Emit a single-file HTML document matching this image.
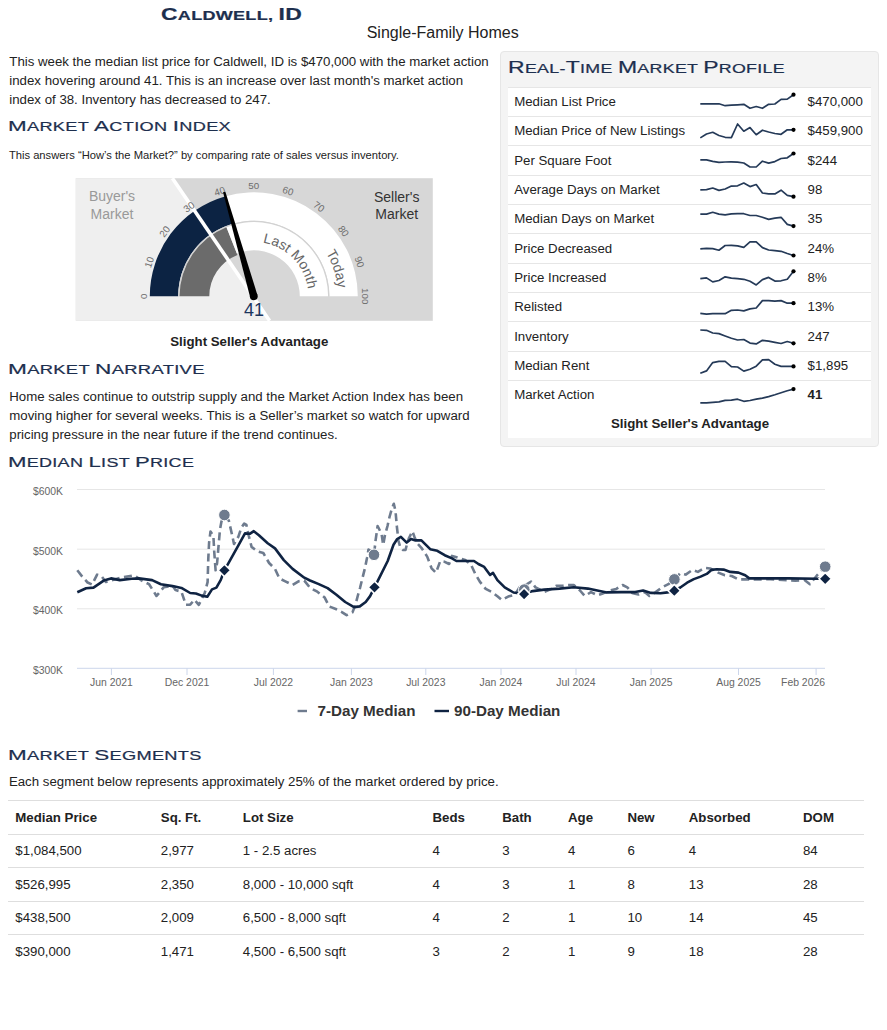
<!DOCTYPE html>
<html><head><meta charset="utf-8"><title>Caldwell, ID</title>
<style>
html,body{margin:0;padding:0;background:#fff;}
body{width:887px;height:1030px;position:relative;overflow:hidden;font-family:"Liberation Sans", sans-serif;color:#222;}
.hd,.t{position:absolute;white-space:nowrap;}
.hd{transform-origin:0 50%;font-family:"Liberation Sans", sans-serif;-webkit-text-stroke:0.2px currentColor;}
svg{position:absolute;left:0;top:0;}
</style></head><body>
<div id="h0" class="hd" style="left:160.70px;top:3.81px;line-height:20px;font-weight:700;color:#1d2f4e;letter-spacing:0.20px;transform:scaleX(1.3267)"><span style="font-size:17.30px">C</span><span style="font-size:13.60px">A</span><span style="font-size:13.60px">L</span><span style="font-size:13.60px">D</span><span style="font-size:13.60px">W</span><span style="font-size:13.60px">E</span><span style="font-size:13.60px">L</span><span style="font-size:13.60px">L</span><span style="font-size:13.60px">,</span><span style="font-size:13.60px"> </span><span style="font-size:17.30px">I</span><span style="font-size:17.30px">D</span></div>
<div class="t " style="left:366.70px;top:22.11px;font-size:16.00px;line-height:21.00px;color:#222;font-weight:400;">Single-Family Homes</div>
<div class="t " style="left:9.30px;top:52.56px;font-size:13.25px;line-height:17.00px;color:#222;font-weight:400;">This week the median list price for Caldwell, ID is $470,000 with the market action</div>
<div class="t " style="left:9.30px;top:71.56px;font-size:13.25px;line-height:17.00px;color:#222;font-weight:400;">index hovering around 41. This is an increase over last month's market action</div>
<div class="t " style="left:9.30px;top:90.56px;font-size:13.25px;line-height:17.00px;color:#222;font-weight:400;">index of 38. Inventory has decreased to 247.</div>
<div id="h1" class="hd" style="left:8.29px;top:115.56px;line-height:20px;font-weight:400;color:#1d2f4e;letter-spacing:0.20px;transform:scaleX(1.4542)"><span style="font-size:15.40px">M</span><span style="font-size:12.50px">A</span><span style="font-size:12.50px">R</span><span style="font-size:12.50px">K</span><span style="font-size:12.50px">E</span><span style="font-size:12.50px">T</span><span style="font-size:12.50px"> </span><span style="font-size:15.40px">A</span><span style="font-size:12.50px">C</span><span style="font-size:12.50px">T</span><span style="font-size:12.50px">I</span><span style="font-size:12.50px">O</span><span style="font-size:12.50px">N</span><span style="font-size:12.50px"> </span><span style="font-size:15.40px">I</span><span style="font-size:12.50px">N</span><span style="font-size:12.50px">D</span><span style="font-size:12.50px">E</span><span style="font-size:12.50px">X</span></div>
<div class="t " style="left:8.90px;top:147.67px;font-size:11.20px;line-height:15.00px;color:#222;font-weight:400;">This answers “How’s the Market?” by comparing rate of sales versus inventory.</div>
<svg width="887" height="400" viewBox="0 0 887 400" style="font-family:'Liberation Sans', sans-serif"><rect x="75.8" y="178.2" width="357" height="142.6" fill="#d7d7d7"/><polygon points="75.8,178.2 172.6,178.2 269.6,320.8 75.8,320.8" fill="#efefef"/><path d="M149.80 296.30 A104.00 104.00 0 0 1 224.78 196.43 L232.71 223.70 A75.60 75.60 0 0 0 178.20 296.30 Z" fill="#0c2343"/><path d="M224.78 196.43 A104.00 104.00 0 0 1 357.80 296.30 L329.40 296.30 A75.60 75.60 0 0 0 232.71 223.70 Z" fill="#ffffff"/><path d="M178.20 296.30 A75.60 75.60 0 0 1 329.40 296.30 L328.10 296.30 A74.30 74.30 0 0 0 179.50 296.30 Z" fill="#d2d2d2"/><path d="M179.50 296.30 A74.30 74.30 0 0 1 226.45 227.22 L237.42 254.92 A44.50 44.50 0 0 0 209.30 296.30 Z" fill="#6b6b6b"/><path d="M226.45 227.22 A74.30 74.30 0 0 1 328.10 296.30 L299.80 296.30 A46.00 46.00 0 0 0 236.87 253.53 Z" fill="#ffffff"/><line x1="172.4" y1="178.2" x2="269.6" y2="320.8" stroke="#ffffff" stroke-width="3.6"/><text x="143.80" y="296.30" transform="rotate(-90.0 143.80 296.30)" font-size="9.8" fill="#6c6c6c" text-anchor="middle" dominant-baseline="central">0</text><text x="149.06" y="262.27" transform="rotate(-72.0 149.06 262.27)" font-size="9.8" fill="#6c6c6c" text-anchor="middle" dominant-baseline="central">10</text><text x="164.60" y="231.49" transform="rotate(-54.0 164.60 231.49)" font-size="9.8" fill="#6c6c6c" text-anchor="middle" dominant-baseline="central">20</text><text x="188.91" y="206.99" transform="rotate(-36.0 188.91 206.99)" font-size="9.8" fill="#6c6c6c" text-anchor="middle" dominant-baseline="central">30</text><text x="219.65" y="191.19" transform="rotate(-18.0 219.65 191.19)" font-size="9.8" fill="#6c6c6c" text-anchor="middle" dominant-baseline="central">40</text><text x="253.80" y="185.65" transform="rotate(0.0 253.80 185.65)" font-size="9.8" fill="#6c6c6c" text-anchor="middle" dominant-baseline="central">50</text><text x="288.03" y="190.94" transform="rotate(18.0 288.03 190.94)" font-size="9.8" fill="#6c6c6c" text-anchor="middle" dominant-baseline="central">60</text><text x="318.99" y="206.57" transform="rotate(36.0 318.99 206.57)" font-size="9.8" fill="#6c6c6c" text-anchor="middle" dominant-baseline="central">70</text><text x="343.63" y="231.03" transform="rotate(54.0 343.63 231.03)" font-size="9.8" fill="#6c6c6c" text-anchor="middle" dominant-baseline="central">80</text><text x="359.53" y="261.95" transform="rotate(72.0 359.53 261.95)" font-size="9.8" fill="#6c6c6c" text-anchor="middle" dominant-baseline="central">90</text><text x="365.10" y="296.30" transform="rotate(90.0 365.10 296.30)" font-size="9.8" fill="#6c6c6c" text-anchor="middle" dominant-baseline="central">100</text><defs><path id="arcLM" d="M199.30 296.30 A54.50 54.50 0 0 1 308.30 296.30" fill="none"/><path id="arcTD" d="M169.50 296.30 A84.30 84.30 0 0 1 338.10 296.30" fill="none"/></defs><text font-size="14" fill="#666"><textPath href="#arcLM" startOffset="94.51">Last Month</textPath></text><text font-size="14" fill="#666"><textPath href="#arcTD" startOffset="218.75">Today</textPath></text><polygon points="257.46,295.26 225.35,191.67 223.05,192.33 250.14,297.34" fill="#000"/><circle cx="253.80" cy="296.30" r="3.9" fill="#000"/></svg>
<div class="t " style="left:80.00px;top:188.40px;font-size:14.00px;line-height:17.40px;color:#999;font-weight:400;text-align:center;width:64px;">Buyer's<br>Market</div>
<div class="t " style="left:364.70px;top:188.60px;font-size:14.00px;line-height:17.40px;color:#333;font-weight:400;text-align:center;width:64px;">Seller's<br>Market</div>
<div class="t " style="left:233.90px;top:298.71px;font-size:18.00px;line-height:23.00px;color:#1c355e;font-weight:400;text-align:center;width:40px;">41</div>
<div class="t " style="left:149.30px;top:332.86px;font-size:13.25px;line-height:17.00px;color:#222;font-weight:700;text-align:center;width:200px;">Slight Seller's Advantage</div>
<div id="h2" class="hd" style="left:7.67px;top:358.96px;line-height:20px;font-weight:400;color:#1d2f4e;letter-spacing:0.20px;transform:scaleX(1.4700)"><span style="font-size:15.40px">M</span><span style="font-size:12.50px">A</span><span style="font-size:12.50px">R</span><span style="font-size:12.50px">K</span><span style="font-size:12.50px">E</span><span style="font-size:12.50px">T</span><span style="font-size:12.50px"> </span><span style="font-size:15.40px">N</span><span style="font-size:12.50px">A</span><span style="font-size:12.50px">R</span><span style="font-size:12.50px">R</span><span style="font-size:12.50px">A</span><span style="font-size:12.50px">T</span><span style="font-size:12.50px">I</span><span style="font-size:12.50px">V</span><span style="font-size:12.50px">E</span></div>
<div class="t " style="left:9.30px;top:388.26px;font-size:13.25px;line-height:17.00px;color:#222;font-weight:400;">Home sales continue to outstrip supply and the Market Action Index has been</div>
<div class="t " style="left:9.30px;top:407.36px;font-size:13.25px;line-height:17.00px;color:#222;font-weight:400;">moving higher for several weeks. This is a Seller’s market so watch for upward</div>
<div class="t " style="left:9.30px;top:426.46px;font-size:13.25px;line-height:17.00px;color:#222;font-weight:400;">pricing pressure in the near future if the trend continues.</div>
<div id="h3" class="hd" style="left:7.67px;top:451.56px;line-height:20px;font-weight:400;color:#1d2f4e;letter-spacing:0.20px;transform:scaleX(1.4383)"><span style="font-size:15.40px">M</span><span style="font-size:12.50px">E</span><span style="font-size:12.50px">D</span><span style="font-size:12.50px">I</span><span style="font-size:12.50px">A</span><span style="font-size:12.50px">N</span><span style="font-size:12.50px"> </span><span style="font-size:15.40px">L</span><span style="font-size:12.50px">I</span><span style="font-size:12.50px">S</span><span style="font-size:12.50px">T</span><span style="font-size:12.50px"> </span><span style="font-size:15.40px">P</span><span style="font-size:12.50px">R</span><span style="font-size:12.50px">I</span><span style="font-size:12.50px">C</span><span style="font-size:12.50px">E</span></div>
<div style="position:absolute;left:499.7px;top:51.4px;width:377.5px;height:394px;background:#f4f4f4;border:1px solid #e6e6e6;border-radius:4px;"></div>
<div id="h4" class="hd" style="left:507.74px;top:58.19px;line-height:20px;font-weight:400;color:#1d2f4e;letter-spacing:0.20px;transform:scaleX(1.4726)"><span style="font-size:15.60px">R</span><span style="font-size:12.10px">E</span><span style="font-size:12.10px">A</span><span style="font-size:12.10px">L</span><span style="font-size:12.10px">-</span><span style="font-size:15.60px">T</span><span style="font-size:12.10px">I</span><span style="font-size:12.10px">M</span><span style="font-size:12.10px">E</span><span style="font-size:12.10px"> </span><span style="font-size:15.60px">M</span><span style="font-size:12.10px">A</span><span style="font-size:12.10px">R</span><span style="font-size:12.10px">K</span><span style="font-size:12.10px">E</span><span style="font-size:12.10px">T</span><span style="font-size:12.10px"> </span><span style="font-size:15.60px">P</span><span style="font-size:12.10px">R</span><span style="font-size:12.10px">O</span><span style="font-size:12.10px">F</span><span style="font-size:12.10px">I</span><span style="font-size:12.10px">L</span><span style="font-size:12.10px">E</span></div>
<div style="position:absolute;left:507.8px;top:87.00px;width:363.2px;height:351.20px;background:#fff;"></div>
<div style="position:absolute;left:507.8px;top:86.50px;width:363.2px;height:1px;background:#e6e6e6;"></div>
<div class="t " style="left:514.20px;top:92.86px;font-size:13.25px;line-height:17.00px;color:#222;font-weight:400;">Median List Price</div>
<div class="t " style="left:807.60px;top:92.86px;font-size:13.25px;line-height:17.00px;color:#222;font-weight:400;">$470,000</div>
<div style="position:absolute;left:507.8px;top:115.85px;width:363.2px;height:1px;background:#e6e6e6;"></div>
<div class="t " style="left:514.20px;top:122.21px;font-size:13.25px;line-height:17.00px;color:#222;font-weight:400;">Median Price of New Listings</div>
<div class="t " style="left:807.60px;top:122.21px;font-size:13.25px;line-height:17.00px;color:#222;font-weight:400;">$459,900</div>
<div style="position:absolute;left:507.8px;top:145.20px;width:363.2px;height:1px;background:#e6e6e6;"></div>
<div class="t " style="left:514.20px;top:151.56px;font-size:13.25px;line-height:17.00px;color:#222;font-weight:400;">Per Square Foot</div>
<div class="t " style="left:807.60px;top:151.56px;font-size:13.25px;line-height:17.00px;color:#222;font-weight:400;">$244</div>
<div style="position:absolute;left:507.8px;top:174.55px;width:363.2px;height:1px;background:#e6e6e6;"></div>
<div class="t " style="left:514.20px;top:180.91px;font-size:13.25px;line-height:17.00px;color:#222;font-weight:400;">Average Days on Market</div>
<div class="t " style="left:807.60px;top:180.91px;font-size:13.25px;line-height:17.00px;color:#222;font-weight:400;">98</div>
<div style="position:absolute;left:507.8px;top:203.90px;width:363.2px;height:1px;background:#e6e6e6;"></div>
<div class="t " style="left:514.20px;top:210.26px;font-size:13.25px;line-height:17.00px;color:#222;font-weight:400;">Median Days on Market</div>
<div class="t " style="left:807.60px;top:210.26px;font-size:13.25px;line-height:17.00px;color:#222;font-weight:400;">35</div>
<div style="position:absolute;left:507.8px;top:233.25px;width:363.2px;height:1px;background:#e6e6e6;"></div>
<div class="t " style="left:514.20px;top:239.61px;font-size:13.25px;line-height:17.00px;color:#222;font-weight:400;">Price Decreased</div>
<div class="t " style="left:807.60px;top:239.61px;font-size:13.25px;line-height:17.00px;color:#222;font-weight:400;">24%</div>
<div style="position:absolute;left:507.8px;top:262.60px;width:363.2px;height:1px;background:#e6e6e6;"></div>
<div class="t " style="left:514.20px;top:268.96px;font-size:13.25px;line-height:17.00px;color:#222;font-weight:400;">Price Increased</div>
<div class="t " style="left:807.60px;top:268.96px;font-size:13.25px;line-height:17.00px;color:#222;font-weight:400;">8%</div>
<div style="position:absolute;left:507.8px;top:291.95px;width:363.2px;height:1px;background:#e6e6e6;"></div>
<div class="t " style="left:514.20px;top:298.31px;font-size:13.25px;line-height:17.00px;color:#222;font-weight:400;">Relisted</div>
<div class="t " style="left:807.60px;top:298.31px;font-size:13.25px;line-height:17.00px;color:#222;font-weight:400;">13%</div>
<div style="position:absolute;left:507.8px;top:321.30px;width:363.2px;height:1px;background:#e6e6e6;"></div>
<div class="t " style="left:514.20px;top:327.66px;font-size:13.25px;line-height:17.00px;color:#222;font-weight:400;">Inventory</div>
<div class="t " style="left:807.60px;top:327.66px;font-size:13.25px;line-height:17.00px;color:#222;font-weight:400;">247</div>
<div style="position:absolute;left:507.8px;top:350.65px;width:363.2px;height:1px;background:#e6e6e6;"></div>
<div class="t " style="left:514.20px;top:357.01px;font-size:13.25px;line-height:17.00px;color:#222;font-weight:400;">Median Rent</div>
<div class="t " style="left:807.60px;top:357.01px;font-size:13.25px;line-height:17.00px;color:#222;font-weight:400;">$1,895</div>
<div style="position:absolute;left:507.8px;top:380.00px;width:363.2px;height:1px;background:#e6e6e6;"></div>
<div class="t " style="left:514.20px;top:386.36px;font-size:13.25px;line-height:17.00px;color:#222;font-weight:400;">Market Action</div>
<div class="t " style="left:807.60px;top:386.36px;font-size:13.25px;line-height:17.00px;color:#222;font-weight:400;"><b>41</b></div>
<div class="t " style="left:590.00px;top:415.31px;font-size:13.25px;line-height:17.00px;color:#222;font-weight:700;text-align:center;width:200px;">Slight Seller's Advantage</div>
<svg width="887" height="450" viewBox="0 0 887 450"><polyline points="700.30,103.80 706.51,103.80 712.73,103.80 718.94,103.80 725.15,105.70 731.37,105.20 737.58,104.80 743.79,104.30 750.00,108.30 756.22,106.50 762.43,108.30 768.64,104.30 774.86,104.00 781.07,99.40 787.28,99.10 793.50,94.70" fill="none" stroke="#253a58" stroke-width="1.7" stroke-linejoin="round"/><circle cx="793.50" cy="94.70" r="2.1" fill="#000"/><polyline points="700.30,137.90 706.51,134.00 712.73,132.30 718.94,135.50 725.15,137.30 731.37,137.70 737.58,124.00 743.79,131.20 750.00,127.60 756.22,134.70 762.43,130.20 768.64,132.00 774.86,133.50 781.07,134.30 787.28,129.80 793.50,129.80" fill="none" stroke="#253a58" stroke-width="1.7" stroke-linejoin="round"/><circle cx="793.50" cy="129.80" r="2.1" fill="#000"/><polyline points="700.30,159.90 706.51,159.90 712.73,161.30 718.94,162.40 725.15,162.00 731.37,161.80 737.58,162.20 743.79,163.00 750.00,167.00 756.22,167.00 762.43,161.20 768.64,163.10 774.86,161.60 781.07,158.50 787.28,157.80 793.50,153.50" fill="none" stroke="#253a58" stroke-width="1.7" stroke-linejoin="round"/><circle cx="793.50" cy="153.50" r="2.1" fill="#000"/><polyline points="700.30,189.90 706.51,189.60 712.73,188.00 718.94,190.40 725.15,189.00 731.37,186.10 737.58,185.80 743.79,183.00 750.00,186.60 756.22,184.50 762.43,193.00 768.64,193.90 774.86,193.90 781.07,190.20 787.28,195.40 793.50,196.70" fill="none" stroke="#253a58" stroke-width="1.7" stroke-linejoin="round"/><circle cx="793.50" cy="196.70" r="2.1" fill="#000"/><polyline points="700.30,214.10 706.51,214.10 712.73,212.30 718.94,214.10 725.15,214.90 731.37,213.90 737.58,213.70 743.79,213.70 750.00,215.50 756.22,215.50 762.43,217.30 768.64,219.40 774.86,218.20 781.07,217.30 787.28,224.40 793.50,226.10" fill="none" stroke="#253a58" stroke-width="1.7" stroke-linejoin="round"/><circle cx="793.50" cy="226.10" r="2.1" fill="#000"/><polyline points="700.30,248.90 706.51,248.40 712.73,248.60 718.94,250.20 725.15,245.50 731.37,245.40 737.58,245.80 743.79,247.30 750.00,241.80 756.22,241.80 762.43,247.60 768.64,250.00 774.86,250.60 781.07,251.30 787.28,253.50 793.50,255.50" fill="none" stroke="#253a58" stroke-width="1.7" stroke-linejoin="round"/><circle cx="793.50" cy="255.50" r="2.1" fill="#000"/><polyline points="700.30,278.70 706.51,277.90 712.73,281.90 718.94,280.50 725.15,276.80 731.37,278.20 737.58,278.60 743.79,279.30 750.00,281.30 756.22,284.90 762.43,279.60 768.64,277.40 774.86,281.10 781.07,280.80 787.28,279.20 793.50,271.30" fill="none" stroke="#253a58" stroke-width="1.7" stroke-linejoin="round"/><circle cx="793.50" cy="271.30" r="2.1" fill="#000"/><polyline points="700.30,313.30 706.51,314.10 712.73,313.70 718.94,313.50 725.15,313.70 731.37,310.30 737.58,310.00 743.79,310.90 750.00,308.90 756.22,308.00 762.43,300.60 768.64,300.60 774.86,301.20 781.07,300.60 787.28,303.20 793.50,303.20" fill="none" stroke="#253a58" stroke-width="1.7" stroke-linejoin="round"/><circle cx="793.50" cy="303.20" r="2.1" fill="#000"/><polyline points="700.30,330.00 706.51,330.30 712.73,333.00 718.94,333.60 725.15,336.00 731.37,338.30 737.58,340.00 743.79,339.50 750.00,343.10 756.22,343.90 762.43,340.30 768.64,341.20 774.86,342.40 781.07,343.50 787.28,341.50 793.50,343.30" fill="none" stroke="#253a58" stroke-width="1.7" stroke-linejoin="round"/><circle cx="793.50" cy="343.30" r="2.1" fill="#000"/><polyline points="700.30,373.30 706.51,370.90 712.73,362.60 718.94,361.40 725.15,361.40 731.37,366.60 737.58,367.00 743.79,371.10 750.00,369.30 756.22,366.20 762.43,359.90 768.64,359.60 774.86,364.30 781.07,366.40 787.28,366.40 793.50,366.40" fill="none" stroke="#253a58" stroke-width="1.7" stroke-linejoin="round"/><circle cx="793.50" cy="366.40" r="2.1" fill="#000"/><polyline points="700.30,402.80 706.51,402.80 712.73,402.30 718.94,401.90 725.15,400.40 731.37,400.10 737.58,399.20 743.79,401.30 750.00,400.50 756.22,399.20 762.43,398.10 768.64,396.60 774.86,394.80 781.07,392.80 787.28,390.70 793.50,389.10" fill="none" stroke="#253a58" stroke-width="1.7" stroke-linejoin="round"/><circle cx="793.50" cy="389.10" r="2.1" fill="#000"/></svg>
<svg width="887" height="730" viewBox="0 0 887 730" style="font-family:'Liberation Sans', sans-serif"><line x1="77" y1="489.5" x2="825" y2="489.5" stroke="#e6e6e6" stroke-width="1"/><line x1="77" y1="549.2" x2="825" y2="549.2" stroke="#e6e6e6" stroke-width="1"/><line x1="77" y1="608.8" x2="825" y2="608.8" stroke="#e6e6e6" stroke-width="1"/><line x1="77" y1="668.3" x2="825" y2="668.3" stroke="#ccd6eb" stroke-width="1"/><text x="63" y="494.8" font-size="10.4" fill="#666" text-anchor="end">$600K</text><text x="63" y="554.5" font-size="10.4" fill="#666" text-anchor="end">$500K</text><text x="63" y="614.1" font-size="10.4" fill="#666" text-anchor="end">$400K</text><text x="63" y="673.6" font-size="10.4" fill="#666" text-anchor="end">$300K</text><line x1="111.4" y1="668.3" x2="111.4" y2="675" stroke="#ccd6eb" stroke-width="1"/><text x="111.4" y="685.8" font-size="10.4" fill="#666" text-anchor="middle">Jun 2021</text><line x1="187.0" y1="668.3" x2="187.0" y2="675" stroke="#ccd6eb" stroke-width="1"/><text x="187.0" y="685.8" font-size="10.4" fill="#666" text-anchor="middle">Dec 2021</text><line x1="273.4" y1="668.3" x2="273.4" y2="675" stroke="#ccd6eb" stroke-width="1"/><text x="273.4" y="685.8" font-size="10.4" fill="#666" text-anchor="middle">Jul 2022</text><line x1="351.4" y1="668.3" x2="351.4" y2="675" stroke="#ccd6eb" stroke-width="1"/><text x="351.4" y="685.8" font-size="10.4" fill="#666" text-anchor="middle">Jan 2023</text><line x1="425.8" y1="668.3" x2="425.8" y2="675" stroke="#ccd6eb" stroke-width="1"/><text x="425.8" y="685.8" font-size="10.4" fill="#666" text-anchor="middle">Jul 2023</text><line x1="501.0" y1="668.3" x2="501.0" y2="675" stroke="#ccd6eb" stroke-width="1"/><text x="501.0" y="685.8" font-size="10.4" fill="#666" text-anchor="middle">Jan 2024</text><line x1="576.0" y1="668.3" x2="576.0" y2="675" stroke="#ccd6eb" stroke-width="1"/><text x="576.0" y="685.8" font-size="10.4" fill="#666" text-anchor="middle">Jul 2024</text><line x1="651.1" y1="668.3" x2="651.1" y2="675" stroke="#ccd6eb" stroke-width="1"/><text x="651.1" y="685.8" font-size="10.4" fill="#666" text-anchor="middle">Jan 2025</text><line x1="738.5" y1="668.3" x2="738.5" y2="675" stroke="#ccd6eb" stroke-width="1"/><text x="738.5" y="685.8" font-size="10.4" fill="#666" text-anchor="middle">Aug 2025</text><line x1="816.1" y1="668.3" x2="816.1" y2="675" stroke="#ccd6eb" stroke-width="1"/><text x="825" y="685.8" font-size="10.4" fill="#666" text-anchor="end">Feb 2026</text><polyline points="77.3,570.3 82.5,576.9 87.6,582.5 92,584.5 97.1,574.7 101.5,576.2 105.9,582 121.3,577.6 134.5,575.4 141.8,580.6 149.1,584.2 156.5,596 163.8,587.2 172.6,585.7 175.5,590.1 181.4,591.6 185.8,604.7 190.2,604.7 194.4,599.7 198.8,604.8 204.7,593.1 207.6,582.1 208.3,558.6 209.1,542.5 210.5,531.5 213.4,535.9 214.2,551.3 215.6,570.3 217.1,563 218.6,545.4 220,529.3 221.5,521.3 224.4,516.1 228.8,520.5 231.8,533.7 234,544 238.4,536.6 241.3,527.8 244.2,523.5 246.4,524.9 248.6,535.2 251.6,546.9 257.4,551.3 263.3,553 269.1,563 275,568.9 279.4,578.4 285.3,581.3 292.6,585 298.5,581.3 304.3,580.6 310.2,587.9 317.3,591.7 324.7,597.6 329.1,606.4 336.4,609.3 342.2,612.3 346.6,615.2 352.5,612.3 355.4,604.9 358,595 360,588 362.5,578 365,568 367,558 368.5,549.5 371,551 374,555 375.5,541 377.6,526 381.6,534 383.2,545 385,535 387.5,526 389.5,517 391.8,509 393.8,503.8 395.5,511 396.8,526 398.5,541 400.5,548 403,550 405.5,550 406.8,545 409,538 412.4,531.3 414.5,537 417,543 421.4,547.8 427.2,556.6 431.6,568.3 436,572.7 440.3,561 444.7,561.8 449.1,564 452,555.9 459.3,558.1 465.2,559.9 471,564.7 475.4,574.2 479.8,581.6 485.7,588.9 491.6,591.8 497.4,596.2 501.8,599.9 509.1,596.2 515,594.7 519.4,587.4 523.8,586 531.1,581.6 535.5,587.4 544.3,591.8 551.6,588.9 556.3,585.8 562.6,585.8 567.4,585 573.7,585 580,590.5 584.7,596 591,592.1 597.3,595.2 602.1,593.7 610,590.5 616.3,588.9 622.6,585 627.3,587.3 632.1,592.9 638.4,594.5 644.7,592.1 649.4,596 655.7,592.1 662.1,587.3 668.4,584.2 674.5,579.3 680.3,573.3 685.7,574.6 692.5,569.9 697.9,571.9 704.6,567.9 710.1,568.5 718.2,572.6 724.9,575.3 731.7,576 738.5,579.4 746.6,579.4 770.2,579.3 795.4,580.6 804.5,580 809.9,584.2 817.1,575.2 825.2,566.7" fill="none" stroke="#6e7b8e" stroke-width="2.6" stroke-dasharray="8,4.5" stroke-linejoin="round"/><polyline points="77.3,592.3 86.1,588.3 93.5,587.6 103.7,580.6 111,578.4 119.8,580.1 131.6,578.7 138.9,578.4 152.1,580.1 160.9,584.2 172.6,586.1 181.4,587.9 190.2,593 195.9,593.5 201.7,595.6 207.3,596.7 212,589.4 216.4,587.6 220.8,579.9 224.4,570.3 231,558.6 238.4,545.4 245,533.4 250.1,533.7 253.8,531.2 258.9,535.2 267.7,543.2 275,548.4 283.8,560.1 292.6,568.9 304.3,577.7 310,580.5 318.8,584.1 327.6,588.1 336.4,594.7 345.2,602 354,607.1 359.8,606.4 365.7,602 370.1,596.1 374.5,587.3 380.4,575.6 387.7,561 393.5,544.8 397.2,539 400.9,536.8 406.7,542.6 411.1,539 415.5,540.4 421.4,540.4 430.2,549.2 437.3,550.8 444.7,555.2 452,558.4 456.4,561 474,561 478.4,564 484.2,566.9 490.1,575 493,572.8 497.4,580.1 504.7,587.4 513.5,592.5 523.8,594 532.6,591.1 544.3,589.6 559.5,588.6 573.7,587.3 587.9,588.6 597.3,590.5 606.8,592.4 621,592.1 635.2,592.1 643.1,590.5 651,592.9 660.5,593.2 667.6,592.4 674.5,590.5 680.3,587.5 687.1,582.7 693.8,579.1 700.6,576.6 706.7,573.9 711.4,569.9 716.8,569.2 723.6,569.6 730.3,571.9 738.5,572.6 745.2,575.3 749.3,578.4 761.2,578.4 788.2,578.4 817.1,578.8 825.2,578.8" fill="none" stroke="#0f2342" stroke-width="2.6" stroke-linejoin="round"/><circle cx="224.4" cy="515.0" r="5.8" fill="#6e7b8e" stroke="#fff" stroke-width="1"/><circle cx="374.0" cy="554.8" r="5.8" fill="#6e7b8e" stroke="#fff" stroke-width="1"/><circle cx="524.3" cy="589.6" r="5.8" fill="#6e7b8e" stroke="#fff" stroke-width="1"/><circle cx="674.4" cy="579.4" r="5.8" fill="#6e7b8e" stroke="#fff" stroke-width="1"/><circle cx="825.2" cy="566.7" r="5.8" fill="#6e7b8e" stroke="#fff" stroke-width="1"/><polygon points="224.4,564.1 230.6,570.3 224.4,576.5 218.2,570.3" fill="#0f2342" stroke="#fff" stroke-width="1.6"/><polygon points="374.5,581.1 380.7,587.3 374.5,593.5 368.3,587.3" fill="#0f2342" stroke="#fff" stroke-width="1.6"/><polygon points="524.1,587.9 530.3,594.1 524.1,600.3 517.9,594.1" fill="#0f2342" stroke="#fff" stroke-width="1.6"/><polygon points="674.3,584.5 680.5,590.7 674.3,596.9 668.1,590.7" fill="#0f2342" stroke="#fff" stroke-width="1.6"/><polygon points="825.2,572.6 831.4,578.8 825.2,585.0 819.0,578.8" fill="#0f2342" stroke="#fff" stroke-width="1.6"/><line x1="297.6" y1="711" x2="307" y2="711" stroke="#6e7b8e" stroke-width="2.4"/><line x1="434.5" y1="711" x2="449" y2="711" stroke="#0f2342" stroke-width="2.4"/><text x="317.5" y="716" font-size="15.2" font-weight="700" fill="#333">7-Day Median</text><text x="454" y="716" font-size="15.2" font-weight="700" fill="#333">90-Day Median</text></svg>
<div id="h5" class="hd" style="left:7.67px;top:744.56px;line-height:20px;font-weight:400;color:#1d2f4e;letter-spacing:0.20px;transform:scaleX(1.4566)"><span style="font-size:15.40px">M</span><span style="font-size:12.50px">A</span><span style="font-size:12.50px">R</span><span style="font-size:12.50px">K</span><span style="font-size:12.50px">E</span><span style="font-size:12.50px">T</span><span style="font-size:12.50px"> </span><span style="font-size:15.40px">S</span><span style="font-size:12.50px">E</span><span style="font-size:12.50px">G</span><span style="font-size:12.50px">M</span><span style="font-size:12.50px">E</span><span style="font-size:12.50px">N</span><span style="font-size:12.50px">T</span><span style="font-size:12.50px">S</span></div>
<div class="t " style="left:8.90px;top:772.76px;font-size:13.25px;line-height:17.00px;color:#222;font-weight:400;">Each segment below represents approximately 25% of the market ordered by price.</div>
<div style="position:absolute;left:8px;top:800.10px;width:856px;height:1px;background:#dedede;"></div>
<div style="position:absolute;left:8px;top:833.60px;width:856px;height:1px;background:#dedede;"></div>
<div style="position:absolute;left:8px;top:867.10px;width:856px;height:1px;background:#dedede;"></div>
<div style="position:absolute;left:8px;top:900.60px;width:856px;height:1px;background:#dedede;"></div>
<div style="position:absolute;left:8px;top:934.10px;width:856px;height:1px;background:#dedede;"></div>
<div class="t " style="left:15.30px;top:809.06px;font-size:13.25px;line-height:17.00px;color:#222;font-weight:700;">Median Price</div>
<div class="t " style="left:160.80px;top:809.06px;font-size:13.25px;line-height:17.00px;color:#222;font-weight:700;">Sq. Ft.</div>
<div class="t " style="left:242.80px;top:809.06px;font-size:13.25px;line-height:17.00px;color:#222;font-weight:700;">Lot Size</div>
<div class="t " style="left:432.50px;top:809.06px;font-size:13.25px;line-height:17.00px;color:#222;font-weight:700;">Beds</div>
<div class="t " style="left:502.20px;top:809.06px;font-size:13.25px;line-height:17.00px;color:#222;font-weight:700;">Bath</div>
<div class="t " style="left:568.00px;top:809.06px;font-size:13.25px;line-height:17.00px;color:#222;font-weight:700;">Age</div>
<div class="t " style="left:627.40px;top:809.06px;font-size:13.25px;line-height:17.00px;color:#222;font-weight:700;">New</div>
<div class="t " style="left:688.80px;top:809.06px;font-size:13.25px;line-height:17.00px;color:#222;font-weight:700;">Absorbed</div>
<div class="t " style="left:803.00px;top:809.06px;font-size:13.25px;line-height:17.00px;color:#222;font-weight:700;">DOM</div>
<div class="t " style="left:15.30px;top:842.26px;font-size:13.25px;line-height:17.00px;color:#222;font-weight:400;">$1,084,500</div>
<div class="t " style="left:160.80px;top:842.26px;font-size:13.25px;line-height:17.00px;color:#222;font-weight:400;">2,977</div>
<div class="t " style="left:242.80px;top:842.26px;font-size:13.25px;line-height:17.00px;color:#222;font-weight:400;">1 - 2.5 acres</div>
<div class="t " style="left:432.50px;top:842.26px;font-size:13.25px;line-height:17.00px;color:#222;font-weight:400;">4</div>
<div class="t " style="left:502.20px;top:842.26px;font-size:13.25px;line-height:17.00px;color:#222;font-weight:400;">3</div>
<div class="t " style="left:568.00px;top:842.26px;font-size:13.25px;line-height:17.00px;color:#222;font-weight:400;">4</div>
<div class="t " style="left:627.40px;top:842.26px;font-size:13.25px;line-height:17.00px;color:#222;font-weight:400;">6</div>
<div class="t " style="left:688.80px;top:842.26px;font-size:13.25px;line-height:17.00px;color:#222;font-weight:400;">4</div>
<div class="t " style="left:803.00px;top:842.26px;font-size:13.25px;line-height:17.00px;color:#222;font-weight:400;">84</div>
<div class="t " style="left:15.30px;top:875.76px;font-size:13.25px;line-height:17.00px;color:#222;font-weight:400;">$526,995</div>
<div class="t " style="left:160.80px;top:875.76px;font-size:13.25px;line-height:17.00px;color:#222;font-weight:400;">2,350</div>
<div class="t " style="left:242.80px;top:875.76px;font-size:13.25px;line-height:17.00px;color:#222;font-weight:400;">8,000 - 10,000 sqft</div>
<div class="t " style="left:432.50px;top:875.76px;font-size:13.25px;line-height:17.00px;color:#222;font-weight:400;">4</div>
<div class="t " style="left:502.20px;top:875.76px;font-size:13.25px;line-height:17.00px;color:#222;font-weight:400;">3</div>
<div class="t " style="left:568.00px;top:875.76px;font-size:13.25px;line-height:17.00px;color:#222;font-weight:400;">1</div>
<div class="t " style="left:627.40px;top:875.76px;font-size:13.25px;line-height:17.00px;color:#222;font-weight:400;">8</div>
<div class="t " style="left:688.80px;top:875.76px;font-size:13.25px;line-height:17.00px;color:#222;font-weight:400;">13</div>
<div class="t " style="left:803.00px;top:875.76px;font-size:13.25px;line-height:17.00px;color:#222;font-weight:400;">28</div>
<div class="t " style="left:15.30px;top:909.26px;font-size:13.25px;line-height:17.00px;color:#222;font-weight:400;">$438,500</div>
<div class="t " style="left:160.80px;top:909.26px;font-size:13.25px;line-height:17.00px;color:#222;font-weight:400;">2,009</div>
<div class="t " style="left:242.80px;top:909.26px;font-size:13.25px;line-height:17.00px;color:#222;font-weight:400;">6,500 - 8,000 sqft</div>
<div class="t " style="left:432.50px;top:909.26px;font-size:13.25px;line-height:17.00px;color:#222;font-weight:400;">4</div>
<div class="t " style="left:502.20px;top:909.26px;font-size:13.25px;line-height:17.00px;color:#222;font-weight:400;">2</div>
<div class="t " style="left:568.00px;top:909.26px;font-size:13.25px;line-height:17.00px;color:#222;font-weight:400;">1</div>
<div class="t " style="left:627.40px;top:909.26px;font-size:13.25px;line-height:17.00px;color:#222;font-weight:400;">10</div>
<div class="t " style="left:688.80px;top:909.26px;font-size:13.25px;line-height:17.00px;color:#222;font-weight:400;">14</div>
<div class="t " style="left:803.00px;top:909.26px;font-size:13.25px;line-height:17.00px;color:#222;font-weight:400;">45</div>
<div class="t " style="left:15.30px;top:942.76px;font-size:13.25px;line-height:17.00px;color:#222;font-weight:400;">$390,000</div>
<div class="t " style="left:160.80px;top:942.76px;font-size:13.25px;line-height:17.00px;color:#222;font-weight:400;">1,471</div>
<div class="t " style="left:242.80px;top:942.76px;font-size:13.25px;line-height:17.00px;color:#222;font-weight:400;">4,500 - 6,500 sqft</div>
<div class="t " style="left:432.50px;top:942.76px;font-size:13.25px;line-height:17.00px;color:#222;font-weight:400;">3</div>
<div class="t " style="left:502.20px;top:942.76px;font-size:13.25px;line-height:17.00px;color:#222;font-weight:400;">2</div>
<div class="t " style="left:568.00px;top:942.76px;font-size:13.25px;line-height:17.00px;color:#222;font-weight:400;">1</div>
<div class="t " style="left:627.40px;top:942.76px;font-size:13.25px;line-height:17.00px;color:#222;font-weight:400;">9</div>
<div class="t " style="left:688.80px;top:942.76px;font-size:13.25px;line-height:17.00px;color:#222;font-weight:400;">18</div>
<div class="t " style="left:803.00px;top:942.76px;font-size:13.25px;line-height:17.00px;color:#222;font-weight:400;">28</div>
</body></html>
